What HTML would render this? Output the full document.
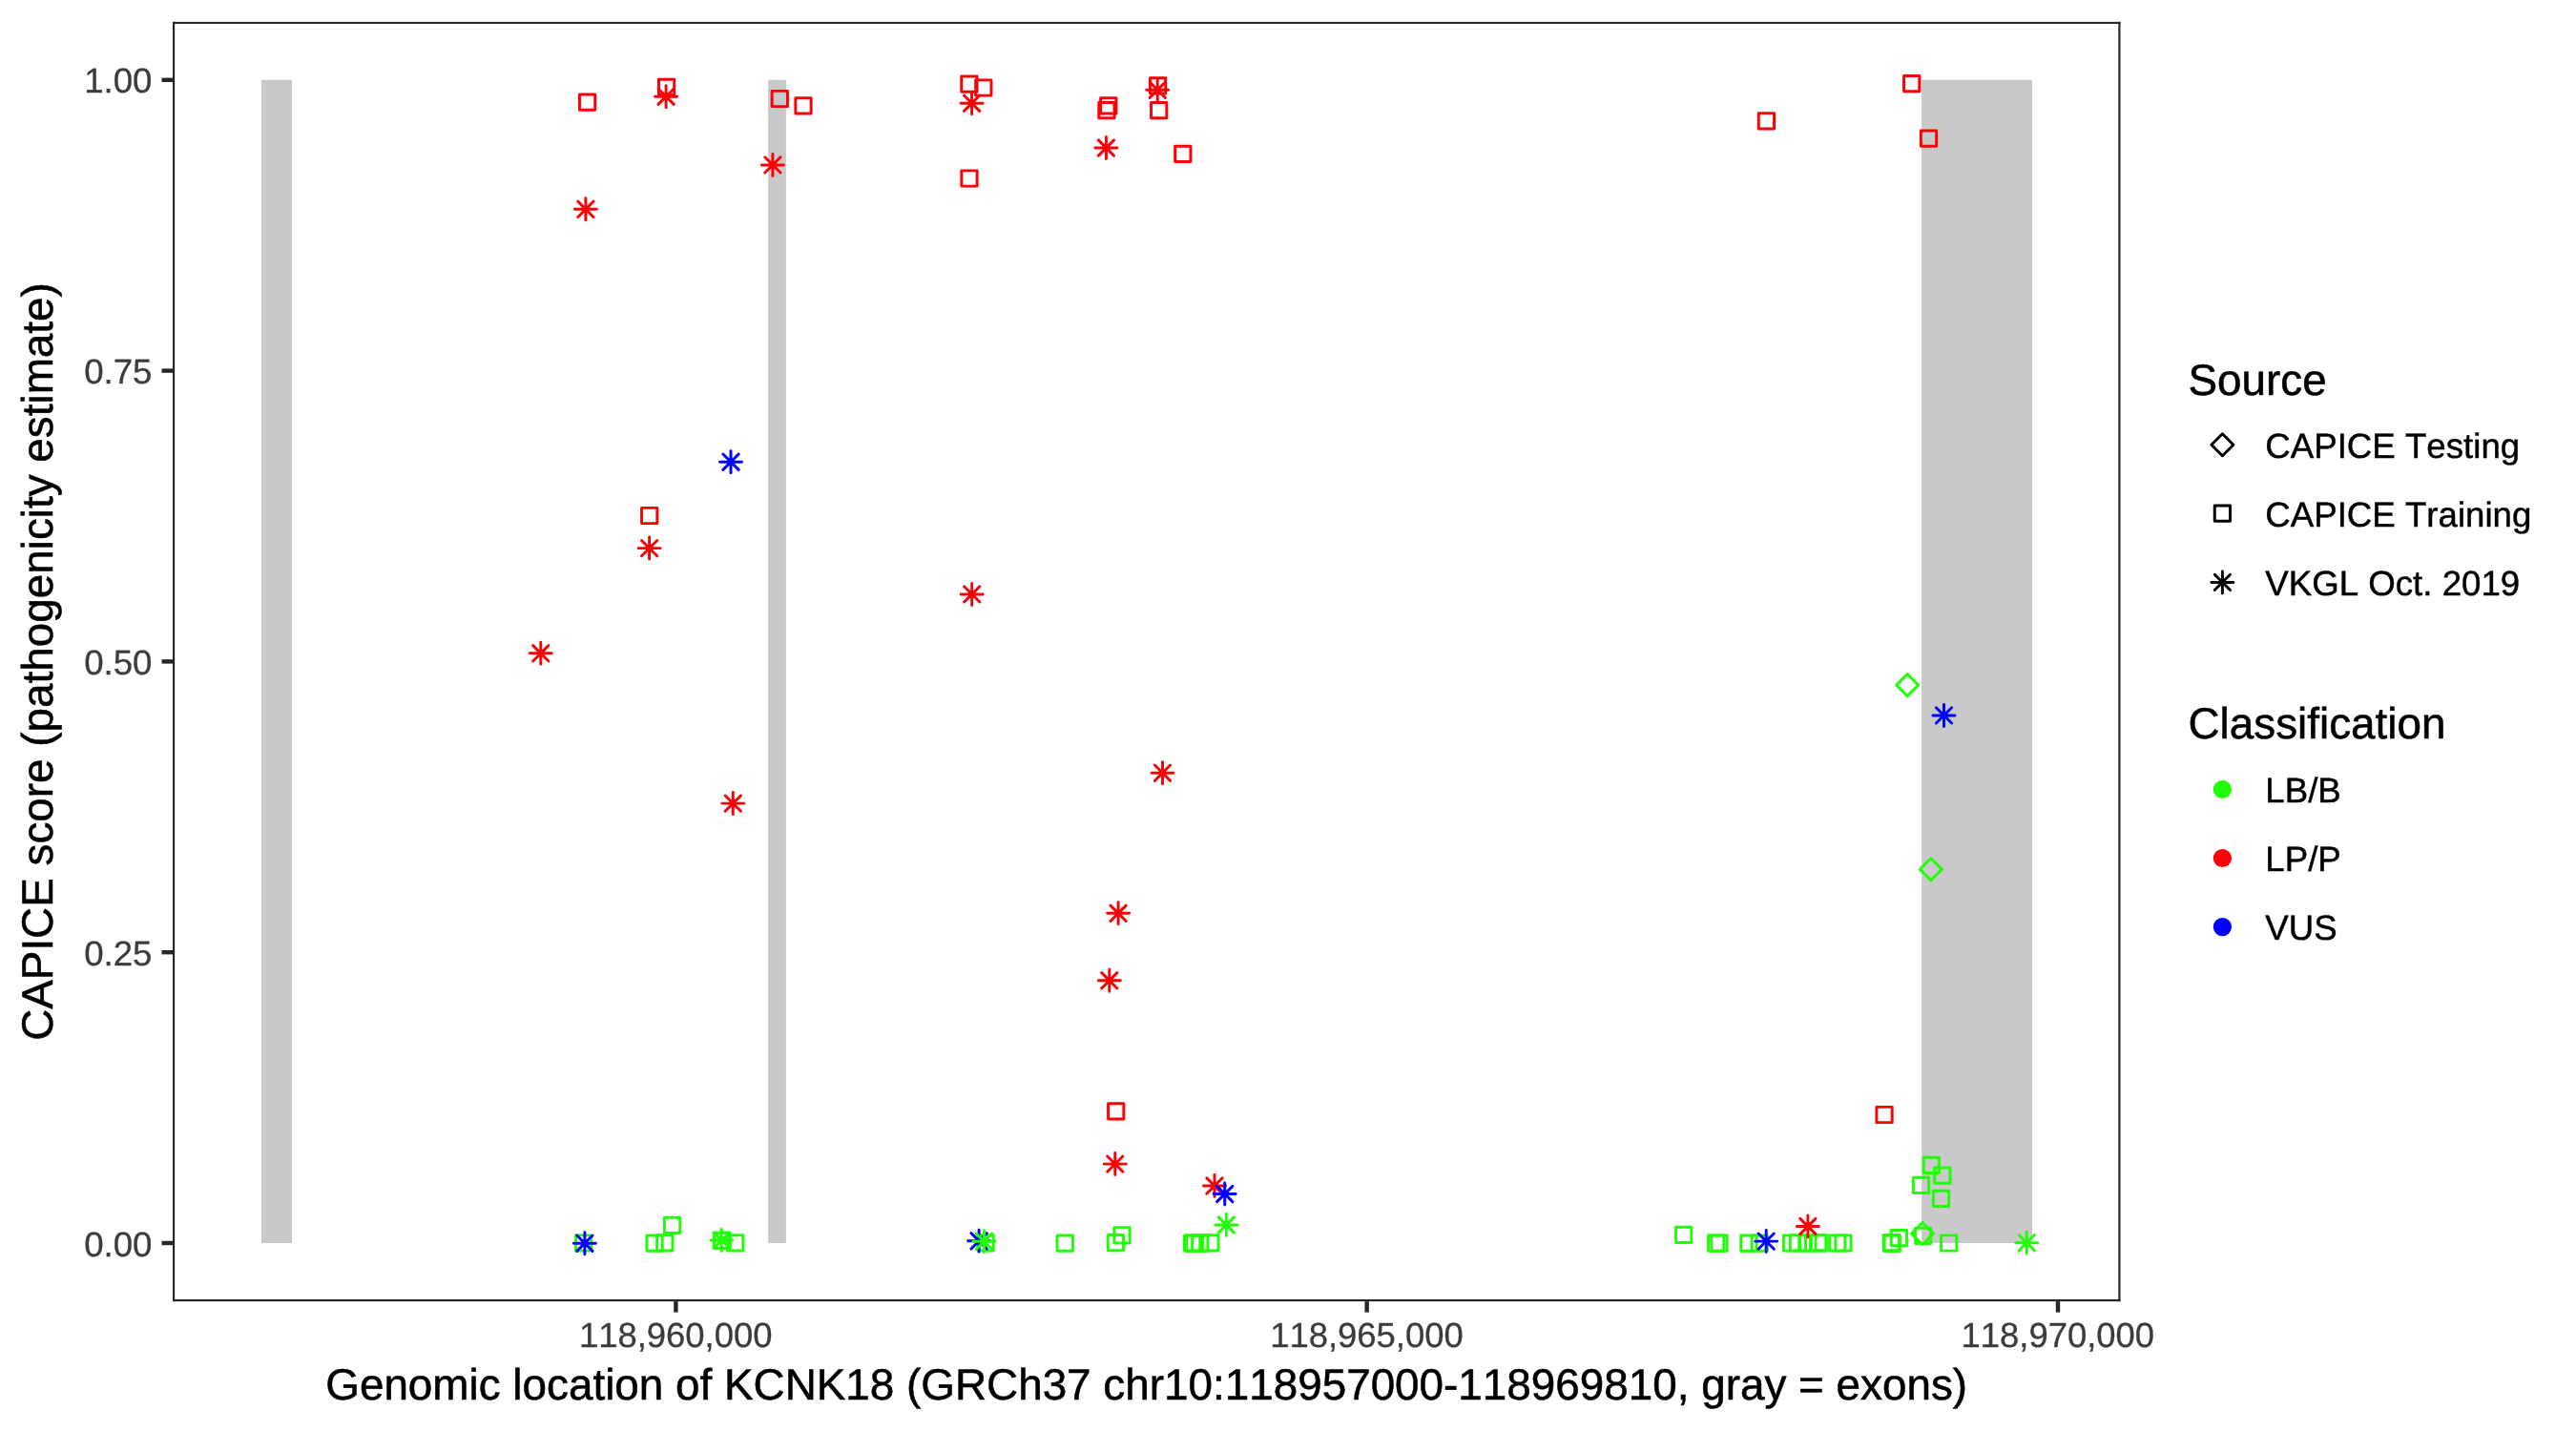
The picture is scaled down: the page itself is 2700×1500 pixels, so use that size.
<!DOCTYPE html>
<html lang="en">
<head>
<meta charset="utf-8">
<title>CAPICE score KCNK18</title>
<style>
html,body{margin:0;padding:0;background:#fff;}
body{width:2700px;height:1500px;overflow:hidden;}
svg{display:block;will-change:transform;}
text{font-family:"Liberation Sans",Arial,Helvetica,sans-serif;font-kerning:none;font-variant-ligatures:none;text-rendering:geometricPrecision;}
.tick{font-size:36.67px;fill:#3C3C3C;stroke:#3C3C3C;stroke-width:0.3px;}
.ttl{font-size:45.83px;fill:#000;stroke:#000;stroke-width:0.55px;}
.leg{font-size:36.67px;fill:#000;stroke:#000;stroke-width:0.45px;}
.pt{fill:none;stroke-width:2.95;stroke-linecap:round;stroke-linejoin:round;}
</style>
</head>
<body>
<svg width="2700" height="1500" viewBox="0 0 2700 1500">
<rect x="0" y="0" width="2700" height="1500" fill="#FFFFFF"/>
<defs><clipPath id="pc"><rect x="181.0" y="22.9" width="2041.5" height="1341.25"/></clipPath></defs>
<g fill="#C9C9C9">
<rect x="274.0" y="83.8" width="31.9" height="1219.2"/>
<rect x="805.1" y="83.8" width="18.8" height="1219.2"/>
<rect x="2014.1" y="83.8" width="115.9" height="1219.2"/>
</g>
<g class="pt" clip-path="url(#pc)">
<rect x="607.46" y="98.96" width="16.28" height="16.28" stroke="#FB0007"/>
<rect x="690.46" y="83.26" width="16.28" height="16.28" stroke="#FB0007"/>
<path d="M689.96 93.06L706.24 109.34M689.96 109.34L706.24 93.06M686.59 101.2L709.61 101.2M698.1 89.69L698.1 112.71" stroke="#FB0007"/>
<rect x="809.16" y="95.36" width="16.28" height="16.28" stroke="#FB0007"/>
<rect x="833.86" y="102.76" width="16.28" height="16.28" stroke="#FB0007"/>
<path d="M801.76 164.76L818.04 181.04M801.76 181.04L818.04 164.76M798.39 172.9L821.41 172.9M809.9 161.39L809.9 184.41" stroke="#FB0007"/>
<path d="M605.76 211.16L622.04 227.44M605.76 227.44L622.04 211.16M602.39 219.3L625.41 219.3M613.9 207.79L613.9 230.81" stroke="#FB0007"/>
<rect x="1007.76" y="80.06" width="16.28" height="16.28" stroke="#FB0007"/>
<rect x="1022.66" y="83.86" width="16.28" height="16.28" stroke="#FB0007"/>
<path d="M1010.46 100.06L1026.74 116.34M1010.46 116.34L1026.74 100.06M1007.09 108.2L1030.11 108.2M1018.6 96.69L1018.6 119.71" stroke="#FB0007"/>
<rect x="1007.86" y="178.86" width="16.28" height="16.28" stroke="#FB0007"/>
<rect x="1153.66" y="102.76" width="16.28" height="16.28" stroke="#FB0007"/>
<rect x="1151.76" y="107.46" width="16.28" height="16.28" stroke="#FB0007"/>
<path d="M1151.26 146.86L1167.54 163.14M1151.26 163.14L1167.54 146.86M1147.89 155L1170.91 155M1159.4 143.49L1159.4 166.51" stroke="#FB0007"/>
<rect x="1205.46" y="81.76" width="16.28" height="16.28" stroke="#FB0007"/>
<path d="M1205.06 86.06L1221.34 102.34M1205.06 102.34L1221.34 86.06M1201.69 94.2L1224.71 94.2M1213.2 82.69L1213.2 105.71" stroke="#FB0007"/>
<rect x="1206.56" y="107.56" width="16.28" height="16.28" stroke="#FB0007"/>
<rect x="1231.66" y="153.16" width="16.28" height="16.28" stroke="#FB0007"/>
<rect x="1843.26" y="118.66" width="16.28" height="16.28" stroke="#FB0007"/>
<rect x="1995.56" y="79.46" width="16.28" height="16.28" stroke="#FB0007"/>
<rect x="2013.36" y="137.06" width="16.28" height="16.28" stroke="#FB0007"/>
<path d="M757.86 476.06L774.14 492.34M757.86 492.34L774.14 476.06M754.49 484.2L777.51 484.2M766 472.69L766 495.71" stroke="#0000FF"/>
<rect x="672.56" y="532.36" width="16.28" height="16.28" stroke="#FB0007"/>
<path d="M672.46 566.46L688.74 582.74M672.46 582.74L688.74 566.46M669.09 574.6L692.11 574.6M680.6 563.09L680.6 586.11" stroke="#FB0007"/>
<path d="M558.66 676.66L574.94 692.94M558.66 692.94L574.94 676.66M555.29 684.8L578.31 684.8M566.8 673.29L566.8 696.31" stroke="#FB0007"/>
<path d="M760.16 833.96L776.44 850.24M760.16 850.24L776.44 833.96M756.79 842.1L779.81 842.1M768.3 830.59L768.3 853.61" stroke="#FB0007"/>
<path d="M1010.56 614.76L1026.84 631.04M1010.56 631.04L1026.84 614.76M1007.19 622.9L1030.21 622.9M1018.7 611.39L1018.7 634.41" stroke="#FB0007"/>
<path d="M1210.36 802.06L1226.64 818.34M1210.36 818.34L1226.64 802.06M1206.99 810.2L1230.01 810.2M1218.5 798.69L1218.5 821.71" stroke="#FB0007"/>
<path d="M1163.96 949.16L1180.24 965.44M1163.96 965.44L1180.24 949.16M1160.59 957.3L1183.61 957.3M1172.1 945.79L1172.1 968.81" stroke="#FB0007"/>
<path d="M1154.66 1019.66L1170.94 1035.94M1154.66 1035.94L1170.94 1019.66M1151.29 1027.8L1174.31 1027.8M1162.8 1016.29L1162.8 1039.31" stroke="#FB0007"/>
<path d="M1987.69 718.1L1999.2 706.59L2010.71 718.1L1999.2 729.61Z" stroke="#21FF06"/>
<path d="M2029.36 741.76L2045.64 758.04M2029.36 758.04L2045.64 741.76M2025.99 749.9L2049.01 749.9M2037.5 738.39L2037.5 761.41" stroke="#0000FF"/>
<path d="M2012.39 911.2L2023.9 899.69L2035.41 911.2L2023.9 922.71Z" stroke="#21FF06"/>
<rect x="603.46" y="1294.86" width="16.28" height="16.28" stroke="#21FF06"/>
<path d="M604.76 1295.06L621.04 1311.34M604.76 1311.34L621.04 1295.06M601.39 1303.2L624.41 1303.2M612.9 1291.69L612.9 1314.71" stroke="#0000FF"/>
<rect x="677.96" y="1295.06" width="16.28" height="16.28" stroke="#21FF06"/>
<rect x="688.66" y="1294.76" width="16.28" height="16.28" stroke="#21FF06"/>
<rect x="696.46" y="1276.16" width="16.28" height="16.28" stroke="#21FF06"/>
<rect x="748.36" y="1292.16" width="16.28" height="16.28" stroke="#21FF06"/>
<rect x="749.06" y="1292.16" width="16.28" height="16.28" stroke="#21FF06"/>
<path d="M748.16 1291.96L764.44 1308.24M748.16 1308.24L764.44 1291.96M744.79 1300.1L767.81 1300.1M756.3 1288.59L756.3 1311.61" stroke="#21FF06"/>
<rect x="762.56" y="1294.76" width="16.28" height="16.28" stroke="#21FF06"/>
<rect x="1024.96" y="1294.66" width="16.28" height="16.28" stroke="#21FF06"/>
<path d="M1017.96 1292.66L1034.24 1308.94M1017.96 1308.94L1034.24 1292.66M1014.59 1300.8L1037.61 1300.8M1026.1 1289.29L1026.1 1312.31" stroke="#0000FF"/>
<path d="M1023.31 1293.16L1039.59 1309.44M1023.31 1309.44L1039.59 1293.16M1019.94 1301.3L1042.96 1301.3M1031.45 1289.79L1031.45 1312.81" stroke="#21FF06"/>
<rect x="1108.16" y="1295.06" width="16.28" height="16.28" stroke="#21FF06"/>
<rect x="1161.26" y="1294.46" width="16.28" height="16.28" stroke="#21FF06"/>
<rect x="1167.86" y="1286.66" width="16.28" height="16.28" stroke="#21FF06"/>
<rect x="1161.56" y="1156.66" width="16.28" height="16.28" stroke="#FB0007"/>
<path d="M1160.66 1211.96L1176.94 1228.24M1160.66 1228.24L1176.94 1211.96M1157.29 1220.1L1180.31 1220.1M1168.8 1208.59L1168.8 1231.61" stroke="#FB0007"/>
<path d="M1264.86 1234.86L1281.14 1251.14M1264.86 1251.14L1281.14 1234.86M1261.49 1243L1284.51 1243M1273 1231.49L1273 1254.51" stroke="#FB0007"/>
<path d="M1275.56 1243.36L1291.84 1259.64M1275.56 1259.64L1291.84 1243.36M1272.19 1251.5L1295.21 1251.5M1283.7 1239.99L1283.7 1263.01" stroke="#0000FF"/>
<path d="M1277.16 1275.86L1293.44 1292.14M1277.16 1292.14L1293.44 1275.86M1273.79 1284L1296.81 1284M1285.3 1272.49L1285.3 1295.51" stroke="#21FF06"/>
<rect x="1241.51" y="1294.96" width="16.28" height="16.28" stroke="#21FF06"/>
<rect x="1243.66" y="1294.96" width="16.28" height="16.28" stroke="#21FF06"/>
<rect x="1249.66" y="1294.96" width="16.28" height="16.28" stroke="#21FF06"/>
<rect x="1260.76" y="1294.66" width="16.28" height="16.28" stroke="#21FF06"/>
<rect x="1756.56" y="1286.16" width="16.28" height="16.28" stroke="#21FF06"/>
<rect x="1790.56" y="1295.06" width="16.28" height="16.28" stroke="#21FF06"/>
<rect x="1793.86" y="1295.06" width="16.28" height="16.28" stroke="#21FF06"/>
<rect x="1824.76" y="1295.06" width="16.28" height="16.28" stroke="#21FF06"/>
<rect x="1836.16" y="1295.06" width="16.28" height="16.28" stroke="#21FF06"/>
<path d="M1843.06 1292.96L1859.34 1309.24M1843.06 1309.24L1859.34 1292.96M1839.69 1301.1L1862.71 1301.1M1851.2 1289.59L1851.2 1312.61" stroke="#0000FF"/>
<rect x="1869.46" y="1294.86" width="16.28" height="16.28" stroke="#21FF06"/>
<rect x="1876.26" y="1294.66" width="16.28" height="16.28" stroke="#21FF06"/>
<rect x="1886.76" y="1294.86" width="16.28" height="16.28" stroke="#21FF06"/>
<rect x="1897.56" y="1294.76" width="16.28" height="16.28" stroke="#21FF06"/>
<rect x="1898.36" y="1294.76" width="16.28" height="16.28" stroke="#21FF06"/>
<rect x="1917.66" y="1294.86" width="16.28" height="16.28" stroke="#21FF06"/>
<rect x="1923.86" y="1294.86" width="16.28" height="16.28" stroke="#21FF06"/>
<path d="M1886.76 1277.36L1903.04 1293.64M1886.76 1293.64L1903.04 1277.36M1883.39 1285.5L1906.41 1285.5M1894.9 1273.99L1894.9 1297.01" stroke="#FB0007"/>
<rect x="1966.91" y="1160.36" width="16.28" height="16.28" stroke="#FB0007"/>
<rect x="2016.26" y="1213.31" width="16.28" height="16.28" stroke="#21FF06"/>
<rect x="2027.76" y="1223.96" width="16.28" height="16.28" stroke="#21FF06"/>
<rect x="2005.36" y="1234.26" width="16.28" height="16.28" stroke="#21FF06"/>
<rect x="2026.36" y="1248.26" width="16.28" height="16.28" stroke="#21FF06"/>
<rect x="1974.26" y="1294.56" width="16.28" height="16.28" stroke="#21FF06"/>
<rect x="1975.16" y="1295.26" width="16.28" height="16.28" stroke="#21FF06"/>
<rect x="1982.26" y="1289.46" width="16.28" height="16.28" stroke="#21FF06"/>
<path d="M2003.49 1293L2015 1281.49L2026.51 1293L2015 1304.51Z" stroke="#21FF06"/>
<rect x="2007.56" y="1287.16" width="16.28" height="16.28" stroke="#21FF06"/>
<rect x="2034.56" y="1294.86" width="16.28" height="16.28" stroke="#21FF06"/>
<path d="M2116.16 1294.56L2132.44 1310.84M2116.16 1310.84L2132.44 1294.56M2112.79 1302.7L2135.81 1302.7M2124.3 1291.19L2124.3 1314.21" stroke="#21FF06"/>
</g>
<g fill="#262626"><rect x="181.0" y="22.9" width="2.15" height="1341.25"/><rect x="181.0" y="22.9" width="2041.5" height="2.1"/><rect x="181.0" y="1362" width="2041.5" height="2.15"/><rect x="2220.3" y="22.9" width="2.2" height="1341.25"/></g>
<g stroke="#262626" stroke-width="4.4" fill="none">
<path d="M708.4 1364.15V1375.61"/>
<path d="M1432.65 1364.15V1375.61"/>
<path d="M2157.0 1364.15V1375.61"/>
<path d="M169.54 1303H181.0"/>
<path d="M169.54 998.2H181.0"/>
<path d="M169.54 693.4H181.0"/>
<path d="M169.54 388.6H181.0"/>
<path d="M169.54 83.8H181.0"/>
</g>
<g class="tick" text-anchor="middle" style="font-size:36.45px">
<text x="708.2" y="1411.8">118,960,000</text>
<text x="1432.45" y="1411.8">118,965,000</text>
<text x="2156.8" y="1411.8">118,970,000</text>
</g>
<g class="tick" text-anchor="end">
<text x="159.5" y="1316.6">0.00</text>
<text x="159.5" y="1011.8">0.25</text>
<text x="159.5" y="707">0.50</text>
<text x="159.5" y="402.2">0.75</text>
<text x="159.5" y="97.4">1.00</text>
</g>
<text class="ttl" text-anchor="middle" x="1201.7" y="1467">Genomic location of KCNK18 (GRCh37 chr10:118957000-118969810, gray = exons)</text>
<text class="ttl" text-anchor="middle" transform="translate(55 693.5) rotate(-90)">CAPICE score (pathogenicity estimate)</text>
<text class="ttl" x="2293.5" y="413.5">Source</text>
<g class="pt">
<path d="M2317.89 466.3L2329.4 454.79L2340.91 466.3L2329.4 477.81Z" stroke="#000"/>
<rect x="2321.26" y="530.06" width="16.28" height="16.28" stroke="#000"/>
<path d="M2321.26 602.26L2337.54 618.54M2321.26 618.54L2337.54 602.26M2317.89 610.4L2340.91 610.4M2329.4 598.89L2329.4 621.91" stroke="#000"/>
</g>
<text class="leg" x="2374.3" y="480.3">CAPICE Testing</text>
<text class="leg" x="2374.3" y="552.0">CAPICE Training</text>
<text class="leg" x="2374.3" y="624.2">VKGL Oct. 2019</text>
<text class="ttl" x="2293.5" y="774.1">Classification</text>
<circle cx="2329.4" cy="827.45" r="9.62" fill="#21FF06"/>
<circle cx="2329.4" cy="899.5" r="9.62" fill="#FB0007"/>
<circle cx="2329.4" cy="971.6" r="9.62" fill="#0000FF"/>
<text class="leg" x="2374.3" y="841.2">LB/B</text>
<text class="leg" x="2374.3" y="912.9">LP/P</text>
<text class="leg" x="2374.3" y="985.2">VUS</text>
</svg>
</body>
</html>
